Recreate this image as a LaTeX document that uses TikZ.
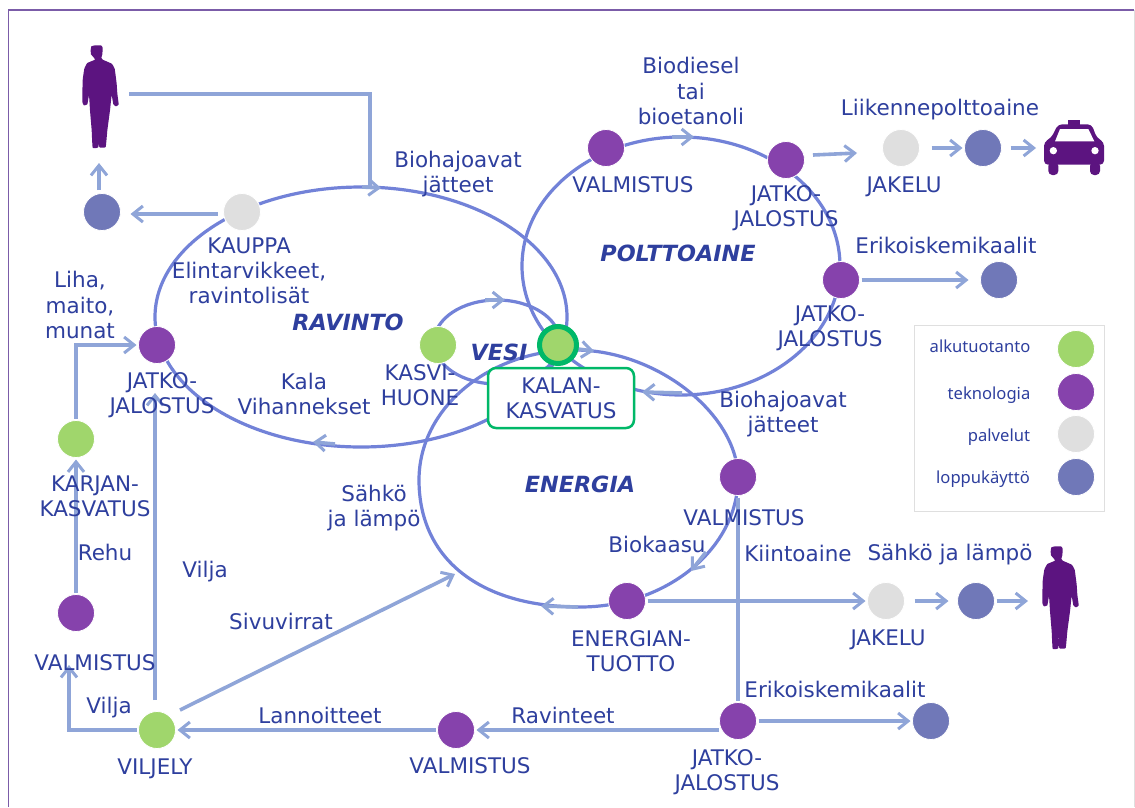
\documentclass[tikz,border=0pt]{standalone}
\usepackage{fontspec}
\setmainfont{DejaVu Sans}
\newfontfamily\legendfont{Noto Sans}
\usetikzlibrary{arrows.meta}
\definecolor{ringc}{HTML}{7282D8}
\definecolor{arrc}{HTML}{8FA5D8}
\definecolor{txtc}{HTML}{2E3F9E}
\definecolor{prim}{HTML}{A0D66C}
\definecolor{tech}{HTML}{8642AC}
\definecolor{serv}{HTML}{DFDFDF}
\definecolor{endu}{HTML}{7078B8}
\definecolor{figc}{HTML}{5C1480}
\definecolor{frame}{HTML}{7B5CA8}
\definecolor{boxg}{HTML}{00B868}
\tikzset{
  dot/.style={circle,minimum size=37pt,inner sep=0pt,outer sep=2pt,draw=white,line width=.8pt},
  pr/.style={dot,fill=prim}, te/.style={dot,fill=tech}, se/.style={dot,fill=serv}, en/.style={dot,fill=endu},
  lab/.style={text=txtc,font=\fontsize{21.5}{25.3}\selectfont,align=center,inner sep=0pt},
  big/.style={text=txtc,font=\fontsize{22.3}{26}\selectfont\bfseries\itshape,inner sep=0pt},
  leg/.style={text=txtc,font=\legendfont\fontsize{16.6}{20}\selectfont,inner sep=0pt},
  ringl/.style={draw=ringc,line width=3.2pt},
  arr/.style={draw=arrc,line width=3.6pt,-{Straight Barb[length=10pt,width=16pt,line width=3pt]}},
  pline/.style={draw=arrc,line width=3.6pt},
  pics/person/.style={code={\fill[figc,scale=.3333] plot[smooth cycle,tension=.2] coordinates {
    (-28,-140) (-26,-152) (-15,-155) (3,-155) (8,-148) (7,-128) (4,-118) (8,-112) (35,-100) (44,-85) (50,-40) (52,-10) (56,22) (48,28) (40,22) (35,-5) (30,40) (22,100) (17,150) (0,152) (-3,148) (-3,80) (-5,150) (-22,152) (-25,100) (-30,40) (-33,-5) (-38,22) (-48,25) (-53,15) (-52,-50) (-47,-85) (-38,-102) (-15,-112) (-20,-120) (-27,-128)};}},
  pics/taxi/.style={code={\begin{scope}[scale=.3333]
    \fill[figc] (-17,-82) rectangle (18,-65);
    \fill[figc,rounded corners=4pt] (-48,-68) -- (53,-68) -- (68,-28) -- (90,-15) -- (90,53) -- (-90,53) -- (-90,-15) -- (-68,-28) -- cycle;
    \fill[figc,rounded corners=4pt] (-77,45) rectangle (-47,84);
    \fill[figc,rounded corners=4pt] (48,45) rectangle (78,84);
    \fill[white] (-42,-54) -- (43,-54) -- (61,-17) -- (-57,-17) -- cycle;
    \fill[white] (-62,11) circle (11);
    \fill[white] (63,11) circle (11);
    \end{scope}}}
}
\begin{document}
\begin{tikzpicture}[x=1pt,y=-1pt]
\useasboundingbox (0,0) rectangle (1135,807);
\fill[white] (0,0) rectangle (1135,807);
\draw[frame,line width=1.2pt] (8.5,807) -- (8.5,10) -- (1134,10);
\draw[serv,line width=.8pt] (1134,10) -- (1134,807);
% legend box
\draw[serv,line width=.8pt] (914,325) rectangle (1104,511);
% big rings
\draw[ringl] (361,317) ellipse [x radius=206pt,y radius=130pt];
\draw[ringl] (681,266) ellipse [x radius=159pt,y radius=129pt];
\draw[ringl] (575,350) .. controls (656.5,350) and (738,414) .. (738,478)
  .. controls (738,548) and (667,607) .. (580,607)
  .. controls (480,607) and (419,559) .. (419,480)
  .. controls (419,408) and (489,350) .. (575,350) -- cycle;
\draw[ringl] (497,342) ellipse [x radius=63pt,y radius=42pt];
% ring arrowheads
\coordinate (h1a) at (362,187); \coordinate (h1b) at (381,188);
\coordinate (h2a) at (335,444); \coordinate (h2b) at (313,442);
\coordinate (h3a) at (485,300); \coordinate (h3b) at (505,300);
\coordinate (h4a) at (672,137); \coordinate (h4b) at (694,137);
\coordinate (h5a) at (682,393); \coordinate (h5b) at (642,392);
\coordinate (h6a) at (578,349); \coordinate (h6b) at (594,351);
\coordinate (h7a) at (706,552); \coordinate (h7b) at (691,571);
\coordinate (h8a) at (578,607); \coordinate (h8b) at (541,606);
\foreach \a/\b in {h1a/h1b,h2a/h2b,h3a/h3b,h4a/h4b,h5a/h5b,h6a/h6b,h7a/h7b,h8a/h8b}
  \draw[arr] (\a) -- (\b);
% circles
\node[te] (valm1) at (606,148) {};
\node[te] (jat1) at (786,160) {};
\node[se] (jak1) at (901,148) {};
\node[en] (end1) at (983,148) {};
\pic at (1074,147) {taxi};
\coordinate (taxi) at (1036,148);
\node[te] (jat2) at (841,280) {};
\node[en] (end2) at (999,280) {};
\node[se] (kaup) at (242,212) {};
\node[en] (end3) at (102,212) {};
\pic at (100,97) {person};
\coordinate (pers1a) at (99,163);
\coordinate (pers1c) at (99,190);
\coordinate (pers1b) at (129,94);
\node[te] (jat3) at (157,345) {};
\node[pr] (karj) at (76,439) {};
\node[te] (valm2) at (76,613) {};
\node[pr] (vilj) at (157,730) {};
\node[te] (valm3) at (456,730) {};
\node[te] (jat4) at (738,721) {};
\node[en] (end4) at (931,721) {};
\node[te] (valm4) at (738,477) {};
\node[te] (entu) at (627,601) {};
\node[se] (jak2) at (886,601) {};
\node[en] (end5) at (976,601) {};
\pic at (1060,598) {person};
\coordinate (pers2) at (1028,601);
\node[pr] (kasv) at (438,345) {};
\node[circle,fill=prim,draw=boxg,line width=5pt,minimum size=37pt,inner sep=0pt] (kala) at (558,345) {};
\node[draw=boxg,line width=2.5pt,fill=white,rounded corners=8pt,minimum width=146pt,minimum height=60pt,lab,text=txtc] (kbox) at (561,398) {KALAN-\\KASVATUS};
% legend circles
\node[pr] (l1) at (1076,349) {};
\node[te] (l2) at (1076,392) {};
\node[se] (l3) at (1076,434) {};
\node[en] (l4) at (1076,477) {};
% connectors
\coordinate (c1) at (370,94);
\coordinate (c2) at (370,186);
\draw[pline] (pers1b) -- (c1) -- (c2);
\draw[arr] (pers1c) -- (pers1a);
\draw[arr,shorten >=8pt] ([yshift=-2pt]kaup.west) ++(-4,0) -- ([yshift=-2pt]end3.east);
\coordinate (c3) at (76,345);
\draw[arr] (karj.north) -- (c3) -- (jat3.west);
\draw[arr] (valm2) -- (karj);
\coordinate (c4) at (69,730);
\coordinate (c4b) at (69,665);
\draw[arr] (vilj.west) -- (c4) -- (c4b);
\coordinate (c5) at (155,700);
\coordinate (c5b) at (155,393);
\draw[arr] (c5) -- (c5b);
\coordinate (c6) at (180,710);
\coordinate (c6b) at (455,574);
\draw[arr] (c6) -- (c6b);
\draw[arr] (valm3) -- (vilj);
\coordinate (c8) at (719,730);
\draw[arr] (c8) -- (valm3.east);
\draw[pline] (valm4) -- (jat4);
\draw[arr] (jat4) -- (end4);
\draw[arr] (entu) -- (jak2);
\draw[arr,shorten <=8pt,shorten >=7pt] (jak2) -- (end5);
\draw[arr] (end5) -- (pers2);
\coordinate (c7) at (813,155);
\coordinate (c7b) at (857,153);
\draw[arr] (c7) -- (c7b);
\draw[arr,shorten <=10pt] (jak1) -- (end1);
\draw[arr,shorten <=7pt] (end1) -- (taxi);
\draw[arr,shorten >=10pt] (jat2) -- (end2);
% labels
\node[lab] (t1) at (691,91) {Biodiesel\\tai\\bioetanoli};
\node[lab] (t2) at (458,174) {Biohajoavat\\jätteet};
\node[lab] (t3) at (633,185) {VALMISTUS};
\node[lab] (t4) at (786,208.5) {JATKO-\\JALOSTUS};
\node[lab] (t5) at (940,110) {Liikennepolttoaine};
\node[lab] (t6) at (904,187) {JAKELU};
\node[big] (t7) at (678,253) {POLTTOAINE};
\node[lab] (t8) at (946,245) {Erikoiskemikaalit};
\node[lab] (t9) at (830,328) {JATKO-\\JALOSTUS};
\node[lab] (t10) at (249,271) {KAUPPA\\Elintarvikkeet,\\ravintolisät};
\node[lab] (t11) at (80,305) {Liha,\\maito,\\munat};
\node[big] (t12) at (348,322) {RAVINTO};
\node[lab] (t13) at (162,395) {JATKO-\\JALOSTUS};
\node[lab] (t14) at (304,394) {Kala\\Vihannekset};
\node[lab] (t15) at (420,385) {KASVI-\\HUONE};
\node[big] (t16) at (499,352) {VESI};
\node[lab] (t17) at (783,414) {Biohajoavat\\jätteet};
\node[big] (t18) at (580,484) {ENERGIA};
\node[lab] (t19) at (374,508) {Sähkö\\ja lämpö};
\node[lab] (t20) at (744,518) {VALMISTUS};
\node[lab] (t21) at (657,544) {Biokaasu};
\node[lab] (t22) at (798,553) {Kiintoaine};
\node[lab] (t23) at (950,555) {Sähkö ja lämpö};
\node[lab] (t24) at (95,496) {KARJAN-\\KASVATUS};
\node[lab] (t25) at (105,552) {Rehu};
\node[lab] (t26) at (205,572) {Vilja};
\node[lab] (t27) at (281,621) {Sivuvirrat};
\node[lab] (t28) at (95,663) {VALMISTUS};
\node[lab] (t29) at (109,708) {Vilja};
\node[lab] (t30) at (320,715) {Lannoitteet};
\node[lab] (t31) at (563,715) {Ravinteet};
\node[lab] (t32) at (155,769) {VILJELY};
\node[lab] (t33) at (470,766) {VALMISTUS};
\node[lab] (t34) at (631,651) {ENERGIAN-\\TUOTTO};
\node[lab] (t35) at (888,640) {JAKELU};
\node[lab] (t36) at (835,689) {Erikoiskemikaalit};
\node[lab] (t37) at (727,772) {JATKO-\\JALOSTUS};
\node[leg] (t38) at (980,346) {alkutuotanto};
\node[leg] (t39) at (989,395) {teknologia};
\node[leg] (t40) at (999,437) {palvelut};
\node[leg] (t41) at (983,479) {loppukäyttö};
\end{tikzpicture}
\end{document}
